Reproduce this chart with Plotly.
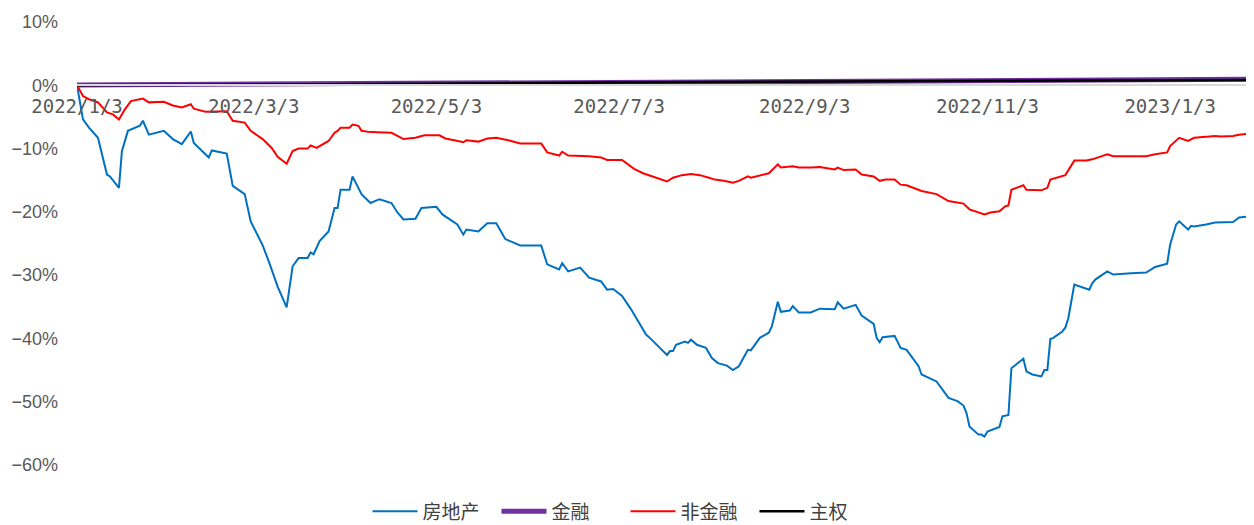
import plotly.graph_objects as go

# ---------------- data ----------------
re_dates = ["2022-01-03","2022-01-05","2022-01-07","2022-01-10","2022-01-13","2022-01-14","2022-01-17","2022-01-18",
            "2022-01-20","2022-01-24","2022-01-25","2022-01-27","2022-02-01","2022-02-04","2022-02-07","2022-02-10",
            "2022-02-11","2022-02-16","2022-02-17","2022-02-22","2022-02-24","2022-02-28","2022-03-02","2022-03-06",
            "2022-03-08","2022-03-11","2022-03-14","2022-03-16","2022-03-18","2022-03-21","2022-03-22","2022-03-23",
            "2022-03-25","2022-03-28","2022-03-30","2022-03-31","2022-04-01","2022-04-04","2022-04-05","2022-04-06",
            "2022-04-08","2022-04-11","2022-04-14","2022-04-18","2022-04-20","2022-04-22","2022-04-26","2022-04-28",
            "2022-05-03","2022-05-05","2022-05-10","2022-05-12","2022-05-13","2022-05-17","2022-05-20","2022-05-23",
            "2022-05-26","2022-05-31","2022-06-07","2022-06-09","2022-06-13","2022-06-14","2022-06-16","2022-06-20",
            "2022-06-23","2022-06-27","2022-06-29","2022-07-01","2022-07-04","2022-07-07","2022-07-12","2022-07-13",
            "2022-07-19","2022-07-20","2022-07-21","2022-07-22","2022-07-25","2022-07-26","2022-07-27","2022-07-29",
            "2022-08-01","2022-08-03","2022-08-05","2022-08-08","2022-08-10","2022-08-12","2022-08-15","2022-08-16",
            "2022-08-17","2022-08-19","2022-08-22","2022-08-23","2022-08-25","2022-08-26","2022-08-29","2022-08-30",
            "2022-09-01","2022-09-05","2022-09-08","2022-09-13","2022-09-14","2022-09-16","2022-09-20","2022-09-22",
            "2022-09-26","2022-09-27","2022-09-28","2022-09-29","2022-10-03","2022-10-05","2022-10-07","2022-10-11",
            "2022-10-12","2022-10-17","2022-10-21","2022-10-24","2022-10-26","2022-10-27","2022-10-28","2022-10-31",
            "2022-11-01","2022-11-02","2022-11-03","2022-11-07","2022-11-08","2022-11-10","2022-11-11","2022-11-15",
            "2022-11-16","2022-11-18","2022-11-21","2022-11-22","2022-11-23","2022-11-24","2022-11-25","2022-11-28",
            "2022-11-29","2022-11-30","2022-12-02","2022-12-05","2022-12-07","2022-12-08","2022-12-09","2022-12-13",
            "2022-12-15","2022-12-21","2022-12-26","2022-12-29","2023-01-02","2023-01-03","2023-01-05","2023-01-06",
            "2023-01-09","2023-01-10","2023-01-11","2023-01-15","2023-01-18","2023-01-24","2023-01-26","2023-01-30",
            "2023-01-31"]
real_estate = [0.0,-5.4,-6.7,-8.3,-14.1,-14.4,-16.2,-10.4,
               -7.2,-6.4,-5.6,-7.8,-7.2,-8.5,-9.3,-7.3,
               -9.1,-11.4,-10.3,-10.8,-15.9,-17.2,-21.5,-25.3,
               -27.8,-31.8,-35.1,-28.6,-27.3,-27.3,-26.4,-26.7,
               -24.6,-23.1,-19.4,-19.4,-16.5,-16.5,-14.4,-15.4,
               -17.2,-18.6,-18.0,-18.6,-20.1,-21.2,-21.1,-19.4,
               -19.2,-20.4,-22.0,-23.6,-22.8,-23.1,-21.8,-21.8,
               -24.3,-25.3,-25.3,-28.3,-29.1,-28.1,-29.4,-28.8,
               -30.4,-31.0,-32.3,-32.2,-33.3,-35.4,-39.4,-39.8,
               -42.6,-42.0,-42.0,-41.0,-40.5,-40.7,-40.2,-41.0,
               -41.5,-43.1,-43.9,-44.3,-45.0,-44.4,-41.8,-41.9,
               -41.2,-39.9,-39.1,-38.1,-34.2,-35.8,-35.6,-34.9,
               -35.9,-35.9,-35.3,-35.4,-34.3,-35.3,-34.7,-36.4,
               -37.7,-39.9,-40.6,-39.8,-39.6,-41.5,-41.8,-44.4,
               -45.7,-46.8,-49.4,-49.9,-50.6,-51.8,-53.9,-55.2,
               -55.2,-55.5,-54.7,-54.0,-52.3,-52.1,-44.7,-43.2,
               -45.2,-45.7,-46.0,-45.0,-45.0,-40.1,-39.9,-38.9,
               -38.3,-36.8,-31.5,-32.0,-32.3,-31.3,-30.7,-29.4,
               -29.9,-29.7,-29.6,-28.7,-28.2,-25.2,-22.0,-21.5,
               -22.8,-22.2,-22.3,-22.0,-21.7,-21.6,-20.9,-20.7,
               -20.3]

nf_dates = ["2022-01-03","2022-01-05","2022-01-07","2022-01-10","2022-01-13","2022-01-15","2022-01-17","2022-01-19",
            "2022-01-21","2022-01-25","2022-01-27","2022-02-01","2022-02-04","2022-02-07","2022-02-10","2022-02-11",
            "2022-02-15","2022-02-22","2022-02-24","2022-02-28","2022-03-02","2022-03-06","2022-03-09","2022-03-11",
            "2022-03-14","2022-03-16","2022-03-18","2022-03-21","2022-03-22","2022-03-24","2022-03-28","2022-03-30",
            "2022-03-31","2022-04-01","2022-04-04","2022-04-05","2022-04-07","2022-04-08","2022-04-11","2022-04-16",
            "2022-04-18","2022-04-20","2022-04-21","2022-04-22","2022-04-26","2022-04-29","2022-05-04","2022-05-06",
            "2022-05-09","2022-05-12","2022-05-13","2022-05-17","2022-05-20","2022-05-23","2022-05-27","2022-05-31",
            "2022-06-07","2022-06-09","2022-06-13","2022-06-14","2022-06-16","2022-06-20","2022-06-23","2022-06-27",
            "2022-06-29","2022-07-04","2022-07-06","2022-07-08","2022-07-11","2022-07-14","2022-07-19","2022-07-21",
            "2022-07-24","2022-07-27","2022-07-30","2022-08-02","2022-08-04","2022-08-07","2022-08-10","2022-08-12",
            "2022-08-15","2022-08-16","2022-08-19","2022-08-22","2022-08-25","2022-08-26","2022-08-30","2022-09-01",
            "2022-09-05","2022-09-08","2022-09-13","2022-09-14","2022-09-16","2022-09-20","2022-09-22","2022-09-26",
            "2022-09-28","2022-09-30","2022-10-03","2022-10-05","2022-10-07","2022-10-12","2022-10-17","2022-10-21",
            "2022-10-26","2022-10-28","2022-11-02","2022-11-04","2022-11-07","2022-11-09","2022-11-10","2022-11-11",
            "2022-11-15","2022-11-16","2022-11-21","2022-11-23","2022-11-24","2022-11-29","2022-12-02","2022-12-06",
            "2022-12-08","2022-12-13","2022-12-15","2022-12-26","2022-12-29","2023-01-02","2023-01-03","2023-01-06",
            "2023-01-09","2023-01-11","2023-01-16","2023-01-18","2023-01-20","2023-01-24","2023-01-26","2023-01-30",
            "2023-01-31"]
non_financial = [0.0,-1.7,-2.2,-2.7,-4.3,-4.6,-5.4,-3.8,
                 -2.5,-2.1,-2.7,-2.6,-3.2,-3.5,-3.0,-3.7,
                 -4.2,-4.1,-5.6,-5.9,-7.2,-8.5,-9.9,-11.3,
                 -12.4,-10.4,-10.0,-10.0,-9.5,-9.9,-8.8,-7.5,
                 -7.2,-6.7,-6.7,-6.2,-6.4,-7.2,-7.4,-7.4,
                 -7.5,-8.0,-8.3,-8.5,-8.3,-7.9,-7.9,-8.4,
                 -8.7,-9.0,-8.7,-8.9,-8.4,-8.3,-8.7,-9.2,
                 -9.2,-10.6,-11.1,-10.5,-11.1,-11.1,-11.2,-11.4,
                 -11.8,-11.8,-12.5,-13.2,-13.9,-14.4,-15.2,-14.6,
                 -14.2,-14.0,-14.2,-14.6,-14.9,-15.1,-15.4,-15.1,
                 -14.4,-14.6,-14.2,-13.9,-12.5,-13.0,-12.8,-13.0,
                 -13.0,-12.9,-13.3,-13.0,-13.4,-13.3,-14.1,-14.4,
                 -15.1,-14.9,-14.9,-15.7,-15.8,-16.7,-17.2,-18.3,
                 -18.7,-19.6,-20.4,-20.1,-19.9,-19.1,-19.0,-16.5,
                 -15.8,-16.5,-16.6,-16.2,-14.9,-14.2,-11.9,-11.9,
                 -11.7,-10.9,-11.2,-11.2,-10.9,-10.6,-9.6,-8.3,
                 -8.8,-8.3,-8.1,-8.0,-8.1,-8.0,-7.8,-7.6,
                 -7.3]

low_dates = ["2022-01-03","2022-03-01","2022-05-01","2022-07-01","2022-09-01","2022-11-01","2023-01-03","2023-01-31"]
financial = [0.05, 0.2, 0.32, 0.47, 0.6, 0.72, 0.88, 0.95]
sovereign = [0.0, 0.1, 0.25, 0.45, 0.55, 0.65, 0.8, 0.85]

x_tick_dates = ["2022-01-03","2022-03-03","2022-05-03","2022-07-03","2022-09-03","2022-11-03","2023-01-03"]
x_tick_labels = ["2022/1/3","2022/3/3","2022/5/3","2022/7/3","2022/9/3","2022/11/3","2023/1/3"]
y_ticks = [10, 0, -10, -20, -30, -40, -50, -60]
y_tick_labels = ["10%", "0%", "\u221210%", "\u221220%", "\u221230%", "\u221240%", "\u221250%", "\u221260%"]

# ---------------- figure ----------------
fig = go.Figure()
fig.add_trace(go.Scatter(x=re_dates, y=real_estate, name="房地产", mode="lines",
                         line=dict(color="#0070C0", width=2)))
fig.add_trace(go.Scatter(x=low_dates, y=financial, name="金融", mode="lines",
                         line=dict(color="#7030A0", width=5)))
fig.add_trace(go.Scatter(x=nf_dates, y=non_financial, name="非金融", mode="lines",
                         line=dict(color="#FF0000", width=2)))
fig.add_trace(go.Scatter(x=low_dates, y=sovereign, name="主权", mode="lines",
                         line=dict(color="#000000", width=2.5)))

ymin, ymax = -60, 10
fig.update_layout(
    width=1246, height=517,
    margin=dict(l=69, r=0, t=14, b=60, autoexpand=False),
    paper_bgcolor="white", plot_bgcolor="white",
    font=dict(family="Noto Sans CJK SC, Liberation Sans, sans-serif", color="#595959"),
    showlegend=True,
    legend=dict(orientation="h", x=0.466, xanchor="center", y=-0.105, yanchor="middle",
                font=dict(size=19, color="#404040", family="Noto Sans CJK SC"),
                itemwidth=45, entrywidth=69, entrywidthmode="pixels",
                bgcolor="rgba(0,0,0,0)"),
    xaxis=dict(type="date", range=["2022-01-03", "2023-01-31"],
               tickmode="array", tickvals=x_tick_dates, ticktext=x_tick_labels,
               tickfont=dict(family="DejaVu Sans Mono", size=19, color="#595959"),
               showgrid=False, zeroline=False, showline=True, linecolor="#D9D9D9", linewidth=1.5,
               ticks="", anchor="free", position=(0 - ymin) / (ymax - ymin),
               ticklabelstandoff=4, automargin=False),
    yaxis=dict(range=[ymin, ymax], tickmode="array", tickvals=y_ticks, ticktext=y_tick_labels,
               tickfont=dict(family="Liberation Sans", size=18, color="#595959"),
               showgrid=False, zeroline=False, showline=False, ticks="",
               ticklabelstandoff=18, automargin=False),
)

fig.write_html("out.html")
